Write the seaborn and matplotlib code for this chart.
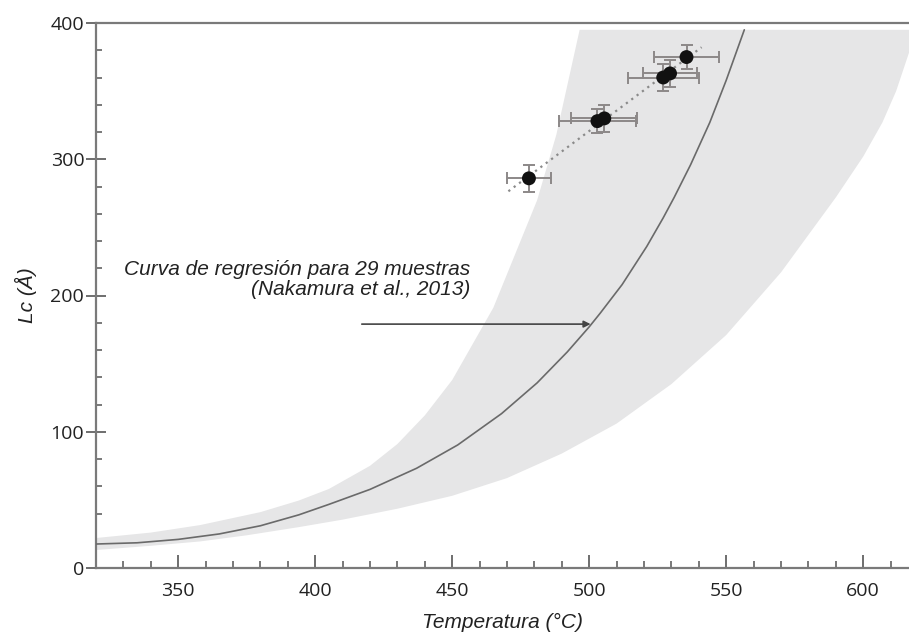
import numpy as np
import matplotlib
matplotlib.use("Agg")
import matplotlib.pyplot as plt
import seaborn as sns
import pandas as pd
from matplotlib.ticker import MultipleLocator

# ---------------- data ----------------
sample_T = [478, 503, 505.5, 527, 529.5, 535.5]
sample_Lc = [286, 328, 330, 360, 363, 375]
sample_T_err = [8, 14, 12, 13, 10, 12]
sample_Lc_err = [10, 9, 10, 10, 10, 9]

curve_T = [320, 335, 350, 365, 380, 394, 405, 420, 437, 452, 468, 481, 492,
           500, 504, 512, 521, 527, 531, 537, 544, 550, 556.6]
curve_Lc = [17.6, 18.5, 21, 25, 31, 39, 46.7, 57.7, 73.2, 90.3, 113.3, 135.9,
            158.6, 177, 187, 208, 236, 257, 272, 296, 327, 358, 395]

band_upper_T = [320, 340, 358, 380, 394, 405, 420, 430, 440, 450, 465, 481,
                488, 496.5]
band_upper_Lc = [22, 26, 31.5, 41, 49.5, 58, 75, 91, 112, 138, 191, 270,
                 318, 395]
band_lower_T = [320, 340, 358, 375, 394, 410, 430, 450, 470, 490, 510, 530,
                550, 570, 590, 600, 607, 612, 617, 619.5]
band_lower_Lc = [13.2, 16.3, 19.5, 24, 30, 35.5, 43.5, 53, 66, 84, 106, 135,
                 171, 217, 272, 302, 327, 350, 380, 395]

x_ticks = [350, 400, 450, 500, 550, 600]
y_ticks = [0, 100, 200, 300, 400]
x_label = "Temperatura (°C)"
y_label = "Lc (Å)"
note_text = "Curva de regresión para 29 muestras\n(Nakamura et al., 2013)"
note_arrow_T = [417, 500.5]
note_arrow_Lc = 179

# ---------------- style ----------------
sns.set_theme(style="ticks")
plt.rcParams["font.family"] = ["Open Sans", "DejaVu Sans"]

fig = plt.figure(figsize=(9.09, 6.38), dpi=100)
ax = fig.add_axes([96 / 909, 70 / 638, (909 - 96) / 909, 545 / 638])

band_color = "#e6e6e7"
poly_T = band_upper_T + band_lower_T[::-1]
poly_Lc = band_upper_Lc + band_lower_Lc[::-1]
ax.fill(poly_T, poly_Lc, color=band_color, lw=0, zorder=1)

curve_df = pd.DataFrame({"T": curve_T, "Lc": curve_Lc})
sns.lineplot(data=curve_df, x="T", y="Lc", ax=ax, color="#6a6a6a", lw=1.2,
             zorder=3, sort=False)

# dotted linear trend through the samples
coef = np.polyfit(sample_T, sample_Lc, 1)
trend_T = np.array([min(sample_T) - 7.5, max(sample_T) + 5.5])
ax.plot(trend_T, np.polyval(coef, trend_T), ls=(0, (1, 2)), color="#8a8a8a",
        lw=1.6, zorder=4)

ax.errorbar(sample_T, sample_Lc, xerr=sample_T_err, yerr=sample_Lc_err,
            fmt="none", ecolor="#8c8888", elinewidth=1.4, capsize=4.5,
            capthick=1.4, zorder=5)
pts_df = pd.DataFrame({"T": sample_T, "Lc": sample_Lc})
sns.scatterplot(data=pts_df, x="T", y="Lc", ax=ax, color="#111111", s=100,
                edgecolor="none", zorder=6)

ax.annotate("", xy=(note_arrow_T[1], note_arrow_Lc),
            xytext=(note_arrow_T[0], note_arrow_Lc),
            arrowprops=dict(arrowstyle="-|>", color="#444444", lw=1.2,
                            mutation_scale=10, shrinkA=0, shrinkB=0),
            zorder=7)
ax.text(456.5, 212, note_text, ha="right", va="center", multialignment="right",
        fontsize=15, style="italic", family=["Liberation Sans", "DejaVu Sans"],
        color="#222222", linespacing=1.05, zorder=7)

ax.set_xlim(320, 616.7)
ax.set_ylim(0, 400)
ax.set_xticks(x_ticks)
ax.set_yticks(y_ticks)
ax.xaxis.set_minor_locator(MultipleLocator(10))
ax.yaxis.set_minor_locator(MultipleLocator(20))

spine_c = "#7a7a7a"
for side in ["left", "bottom", "top"]:
    ax.spines[side].set_color(spine_c)
    ax.spines[side].set_linewidth(1.6)
ax.spines["right"].set_visible(False)

ax.tick_params(axis="x", which="major", direction="in", length=9.5, width=1.2,
               color="#555555", pad=10, labelsize=14, labelcolor="#222222")
ax.tick_params(axis="x", which="minor", direction="in", length=5, width=1.1,
               color="#555555")
ax.tick_params(axis="y", which="major", direction="inout", length=14, width=1.2,
               color="#555555", pad=1.5, labelsize=14, labelcolor="#222222")
ax.tick_params(axis="y", which="minor", direction="in", length=4.2, width=1.1,
               color="#555555")
ax.tick_params(top=False, right=False, which="both")

ax.set_xlabel(x_label, fontsize=15, style="italic",
              family=["Liberation Sans", "DejaVu Sans"], color="#222222")
ax.set_ylabel(y_label, fontsize=15, style="italic",
              family=["Liberation Sans", "DejaVu Sans"], color="#222222")
ax.xaxis.set_label_coords(0.5, -0.082)
ax.yaxis.set_label_coords(-0.072, 0.5)

ax.set_facecolor("white")
fig.patch.set_facecolor("white")
fig.savefig("out.png", dpi=100, facecolor="white")
